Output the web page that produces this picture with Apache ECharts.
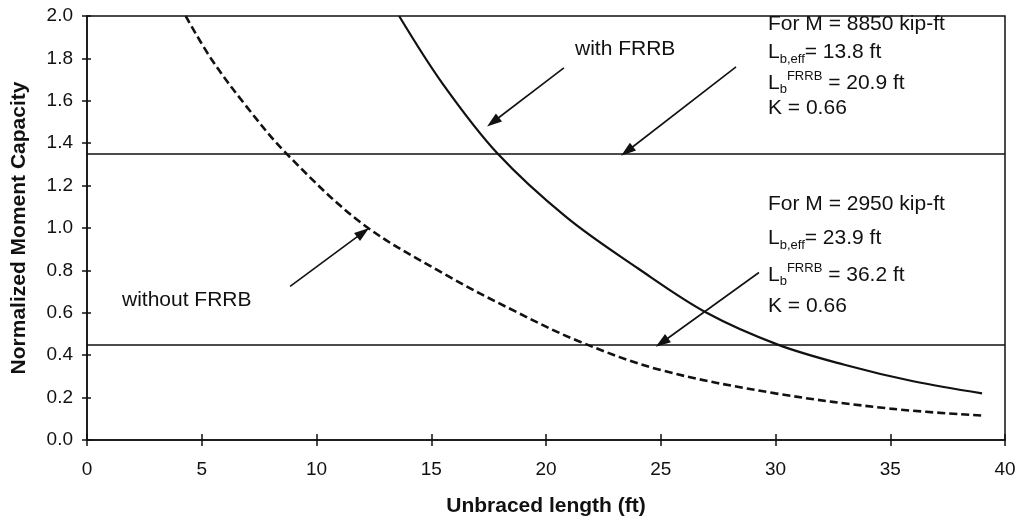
<!DOCTYPE html>
<html>
<head>
<meta charset="utf-8">
<script src="https://cdn.jsdelivr.net/npm/echarts@6/dist/echarts.min.js"></script>
<style>
html,body{margin:0;padding:0;background:#fff;}
#main{width:1023px;height:525px;}
</style>
</head>
<body>
<div id="main"></div>
<script>
// values
var withFrrbX = [13.6, 15.5, 17.9, 20.9, 24, 27, 30.1, 33, 36, 39];
var withFrrbY = [2.0, 1.68, 1.35, 1.05, 0.81, 0.60, 0.45, 0.355, 0.277, 0.22];
var withoutFrrbX = [4.3, 5.4, 6.9, 8.7, 12.0, 15.7, 18.6, 21.4, 25, 30, 35, 39];
var withoutFrrbY = [2.0, 1.8, 1.58, 1.35, 1.02, 0.775, 0.61, 0.467, 0.33, 0.22, 0.148, 0.115];
var demandLevels = [1.35, 0.45];
var xTicks = [0, 5, 10, 15, 20, 25, 30, 35, 40];
var yTicks = [0, 0.2, 0.4, 0.6, 0.8, 1.0, 1.2, 1.4, 1.6, 1.8, 2.0];

function pairs(xs, ys){
	var out = [];
	for (var i = 0; i < xs.length; i++) out.push([xs[i], ys[i]]);
	return out;
}

var FONT = '"Liberation Sans", Arial, sans-serif';
var INK = '#111';

var rich = {
	m: {fontSize: 21, lineHeight: 26, fontFamily: FONT, color: INK},
	s: {fontSize: 13, lineHeight: 13, verticalAlign: 'bottom', fontFamily: FONT, color: INK},
	p: {fontSize: 13, lineHeight: 13, verticalAlign: 'top', fontFamily: FONT, color: INK}
};

function note(x, y, text){
	return {
		type: 'text', left: x, top: y, z: 50,
		style: {text: text, rich: rich, fontSize: 21, fontFamily: FONT, fill: INK}
	};
}

// arrow: tail -> head, in data units
function arrow(from, to){
	return [
		{coord: from, symbol: 'none', lineStyle: {color: INK, width: 1.6, type: 'solid'}},
		{coord: to, symbol: 'triangle', symbolSize: [10, 15]}
	];
}

var myChart = echarts.init(document.getElementById('main'));

var option = {
	backgroundColor: '#fff',
	animation: false,
	color: [INK, INK],
	grid: {
		left: 87, right: 18, top: 16, bottom: 85,
		show: true, borderColor: INK, borderWidth: 1.5
	},
	xAxis: [
		{
			type: 'value', min: xTicks[0], max: xTicks[xTicks.length - 1], interval: 5,
			name: 'Unbraced length (ft)', nameLocation: 'middle', nameGap: 56,
			nameTextStyle: {fontFamily: FONT, fontSize: 21, fontWeight: 'bold', color: INK},
			axisLine: {lineStyle: {color: INK, width: 1.5}},
			axisTick: {length: 6, lineStyle: {color: INK, width: 1.5}},
			axisLabel: {margin: 20, fontFamily: FONT, fontSize: 19, color: INK},
			splitLine: {show: false}
		},
		{
			type: 'value', min: xTicks[0], max: xTicks[xTicks.length - 1], interval: 5,
			position: 'bottom',
			axisLine: {show: false},
			axisTick: {inside: true, length: 6, lineStyle: {color: INK, width: 1.5}},
			axisLabel: {show: false},
			splitLine: {show: false}
		}
	],
	yAxis: [
		{
			type: 'value', min: yTicks[0], max: yTicks[yTicks.length - 1], interval: 0.2,
			name: 'Normalized Moment Capacity', nameLocation: 'middle', nameGap: 57,
			nameTextStyle: {fontFamily: FONT, fontSize: 21, fontWeight: 'bold', color: INK},
			axisLine: {lineStyle: {color: INK, width: 1.5}},
			axisTick: {length: 5, lineStyle: {color: INK, width: 1.5}},
			axisLabel: {
				margin: 14, fontFamily: FONT, fontSize: 19, color: INK,
				formatter: function(v){ return v.toFixed(1); }
			},
			splitLine: {show: false}
		},
		{
			type: 'value', min: yTicks[0], max: yTicks[yTicks.length - 1], interval: 0.2,
			position: 'left',
			axisLine: {show: false},
			axisTick: {inside: true, length: 4, lineStyle: {color: INK, width: 1.5}},
			axisLabel: {show: false},
			splitLine: {show: false}
		}
	],
	series: [
		{
			name: 'with FRRB',
			type: 'line',
			data: pairs(withFrrbX, withFrrbY),
			smooth: 0.35,
			showSymbol: false,
			itemStyle: {color: INK},
			lineStyle: {color: INK, width: 2.2},
			markLine: {
				silent: true,
				symbol: ['none', 'none'],
				symbolSize: 14,
				itemStyle: {color: INK},
				label: {show: false},
				data: [
					// demand levels
					[{coord: [0, demandLevels[0]], lineStyle: {color: INK, width: 1.5, type: 'solid'}},
					 {coord: [40, demandLevels[0]]}],
					[{coord: [0, demandLevels[1]], lineStyle: {color: INK, width: 1.5, type: 'solid'}},
					 {coord: [40, demandLevels[1]]}],
					arrow([20.78, 1.755], [17.69, 1.50]),
					arrow([28.28, 1.76], [23.53, 1.362]),
					arrow([8.85, 0.725], [12.03, 0.979]),
					arrow([29.28, 0.79], [25.05, 0.460])
				]
			}
		},
		{
			name: 'without FRRB',
			type: 'line',
			data: pairs(withoutFrrbX, withoutFrrbY),
			smooth: 0.35,
			showSymbol: false,
			itemStyle: {color: INK},
			lineStyle: {color: INK, width: 2.6, type: [8, 4]}
		}
	],
	graphic: [
		note(575, 39, '{m|with FRRB}'),
		note(122, 290, '{m|without FRRB}'),

		note(768, 14, '{m|For M = 8850 kip-ft}'),
		note(768, 42, '{m|L}{s|b,eff}{m|= 13.8 ft}'),
		note(768, 70, '{m|L}{s|b}{p|FRRB}{m| = 20.9 ft}'),
		note(768, 98, '{m|K = 0.66}'),

		note(768, 194, '{m|For M = 2950 kip-ft}'),
		note(768, 228, '{m|L}{s|b,eff}{m|= 23.9 ft}'),
		note(768, 262, '{m|L}{s|b}{p|FRRB}{m| = 36.2 ft}'),
		note(768, 296, '{m|K = 0.66}')
	]
};

myChart.setOption(option);
</script>
</body>
</html>
